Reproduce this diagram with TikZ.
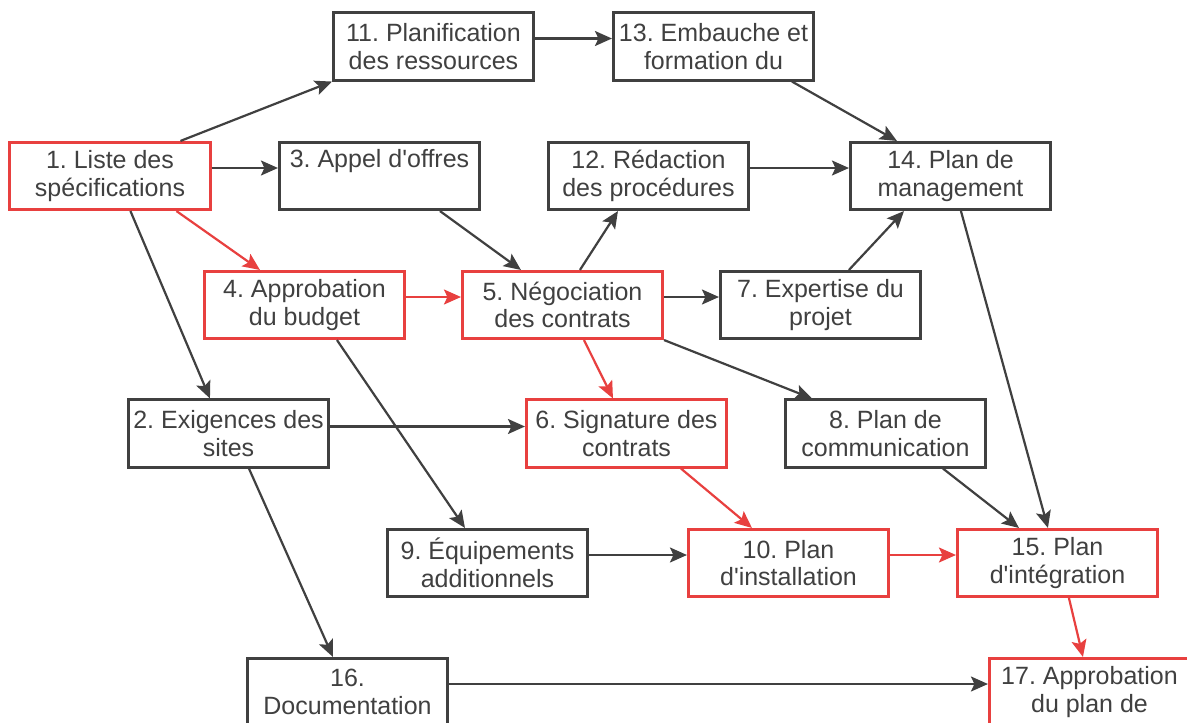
\documentclass[tikz,border=0pt]{standalone}
\usepackage{fontspec}
\setmainfont{Liberation Sans}[Ligatures=TeXOff]
\usetikzlibrary{arrows.meta,calc}
\definecolor{dg}{HTML}{404040}
\definecolor{rd}{HTML}{E8403F}
\frenchspacing
\begin{document}
\begin{tikzpicture}[x=1pt,y=-1pt,
  box/.style={draw=dg, line width=2.6pt, minimum width=200.5pt, minimum height=67.5pt,
    inner sep=0pt, align=center, text=dg, font=\fontsize{25}{27.5}\selectfont},
  crit/.style={box, draw=rd},
  arr/.style={draw=dg, line width=2.2pt, -{Stealth[length=17pt,width=15pt,inset=3.5pt]}},
  carr/.style={arr, draw=rd},
]
\useasboundingbox (0,0) rectangle (1187,723);
\clip (0,0) rectangle (1187,723);
\fill[white] (0,0) rectangle (1187,723);

\node[crit] (n1)  at (110,176)    {1. Liste des\\spécifications};
\node[box]  (n11) at (433.5,46.5) {11. Planification\\des ressources};
\node[box]  (n13) at (713.5,46.5) {13. Embauche et\\formation du};
\node[box]  (n3)  at (379.5,176)  {3. Appel d'offres\\\strut};
\node[box]  (n12) at (648.5,176)  {12. Rédaction\\des procédures};
\node[box]  (n14) at (950.5,176)  {14. Plan de\\management};
\node[crit] (n4)  at (304.5,305)  {4. Approbation\\du budget};
\node[crit] (n5)  at (562.5,305)  {5. Négociation\\des contrats};
\node[box]  (n7)  at (820.5,305)  {7. Expertise du\\projet};
\node[box]  (n2)  at (228.5,433.5){2. Exigences des\\sites};
\node[crit] (n6)  at (626.5,433.5){6. Signature des\\contrats};
\node[box]  (n8)  at (885.5,433.5){8. Plan de\\communication};
\node[box]  (n9)  at (487.5,563)  {9. Équipements\\additionnels};
\node[crit] (n10) at (788.5,563)  {10. Plan\\d'installation};
\node[crit] (n15) at (1057.5,563) {15. Plan\\d'intégration};
\node[box]  (n16) at (347.5,692)  {16.\\Documentation};
\node[crit] (n17) at (1089.5,692) {17. Approbation\\du plan de};

% horizontal connectors
\draw[arr]  ($(n11.east)+(0,-8)$) -- ($(n13.west)+(0,-8)$);
\draw[arr]  ($(n1.east)+(0,-8)$)  -- ($(n3.west)+(0,-8)$);
\draw[arr]  ($(n12.east)+(0,-8)$) -- ($(n14.west)+(0,-8)$);
\draw[carr] ($(n4.east)+(0,-8)$)  -- ($(n5.west)+(0,-8)$);
\draw[arr]  ($(n5.east)+(0,-8)$)  -- ($(n7.west)+(0,-8)$);
\draw[arr]  ($(n2.east)+(0,-7)$)  -- ($(n6.west)+(0,-7)$);
\draw[arr]  ($(n9.east)+(0,-8)$)  -- ($(n10.west)+(0,-8)$);
\draw[carr] ($(n10.east)+(0,-8)$) -- ($(n15.west)+(0,-8)$);
\draw[arr]  ($(n16.east)+(0,-8)$) -- ($(n17.west)+(0,-8)$);

% diagonal connectors
\draw[arr]  ($(n1.north west)+(172,0)$)  -- (n11.south west);
\draw[arr]  ($(n1.south west)+(122,0)$)  -- ($(n2.north west)+(83,0)$);
\draw[carr] ($(n1.south west)+(168,0)$)  -- ($(n4.north west)+(57,0)$);
\draw[arr]  ($(n3.south west)+(162,0)$)  -- ($(n5.north west)+(60,0)$);
\draw[arr]  ($(n4.south west)+(134,0)$)  -- ($(n9.north west)+(79,0)$);
\draw[arr]  ($(n5.north west)+(119,0)$)  -- ($(n12.south west)+(71,0)$);
\draw[arr]  ($(n13.south west)+(180,0)$) -- ($(n14.north west)+(48,0)$);
\draw[arr]  ($(n7.north west)+(130,0)$)  -- ($(n14.south west)+(55,0)$);
\draw[arr]  ($(n14.south west)+(112,0)$) -- ($(n15.north west)+(92,0)$);
\draw[arr]  (n5.south east)              -- ($(n8.north west)+(28,0)$);
\draw[carr] ($(n5.south west)+(123,0)$)  -- ($(n6.north west)+(88,0)$);
\draw[arr]  ($(n2.south west)+(122,0)$)  -- ($(n16.north west)+(87,0)$);
\draw[carr] ($(n6.south west)+(156,0)$)  -- ($(n10.north west)+(65,0)$);
\draw[arr]  ($(n8.south west)+(159,0)$)  -- ($(n15.north west)+(63,0)$);
\draw[carr] ($(n15.south west)+(113,0)$) -- ($(n17.north west)+(95,0)$);
\end{tikzpicture}
\end{document}
